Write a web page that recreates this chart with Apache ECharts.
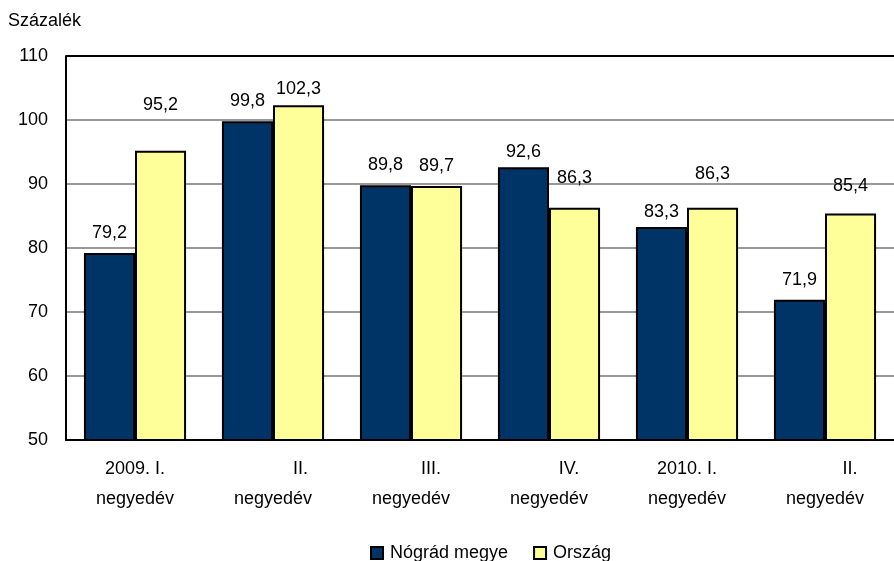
<!DOCTYPE html>
<html style="height: 100%">
<head>
  <meta charset="utf-8" />
  <title>Százalék</title>
  <script src="https://cdn.jsdelivr.net/npm/echarts@6/dist/echarts.min.js"></script>
</head>
<body style="height: 100%; margin: 0; overflow: hidden; background: #fff">
  <div id="container" style="width: 894px; height: 561px"></div>
  <script>
    // adatok
    var categories = [
      "2009. I.\nnegyedév",
      "           II.\nnegyedév",
      "        III.\nnegyedév",
      "        IV.\nnegyedév",
      "2010. I.\nnegyedév",
      "          II.\nnegyedév"
    ];
    var nograd = [79.2, 99.8, 89.8, 92.6, 83.3, 71.9];
    var orszag = [95.2, 102.3, 89.7, 86.3, 86.3, 85.4];
    var seriesNames = ["Nógrád megye", "Ország"];

    // a feliratok kézzel állított távolsága az oszlop tetejétől (px)
    var nogradLabelDist = [11, 11, 11, 6, 6, 11];
    var orszagLabelDist = [37, 7, 11, 21, 25, 18];

    var font = "Liberation Sans, Arial, sans-serif";
    var dom = document.getElementById("container");
    var myChart = echarts.init(dom, null, { renderer: "canvas" });

    let toItems = (vals, dists) => vals.map((v, i) => ({
      value: v,
      label: { distance: dists[i] }
    }));

    var label = {
      show: true,
      position: "top",
      color: "#000",
      fontSize: 18,
      fontFamily: font,
      formatter: function (p) { return p.value.toFixed(1).replace(".", ","); }
    };

    var option = {
      animation: false,
      backgroundColor: "#fff",
      textStyle: { fontFamily: font },
      graphic: [{
        type: "text", left: 8, top: 12,
        style: { text: "Százalék", fontSize: 18, fontFamily: font, fill: "#000" }
      }],
      legend: {
        left: 365, top: 539,
        icon: "rect",
        itemWidth: 12, itemHeight: 12, itemGap: 25,
        itemStyle: { borderColor: "#000", borderWidth: 2 },
        textStyle: { fontSize: 18, color: "#000", fontFamily: font, padding: [0, 0, 0, 2] },
        data: seriesNames
      },
      grid: { left: 66, top: 56, width: 840, height: 384 },
      xAxis: {
        type: "category",
        data: categories,
        axisLine: { lineStyle: { color: "#000", width: 2 } },
        axisTick: { show: false },
        axisLabel: { color: "#000", fontSize: 18, lineHeight: 30, margin: 14, fontFamily: font }
      },
      yAxis: {
        type: "value",
        min: 50, max: 110, interval: 10,
        axisLine: { show: true, lineStyle: { color: "#000", width: 2 } },
        axisTick: { show: false },
        axisLabel: { color: "#000", fontSize: 18, margin: 18, fontFamily: font },
        splitLine: {
          lineStyle: { color: ["#000", "#999", "#999", "#999", "#999", "#999", "#000"], width: 2 }
        }
      },
      series: [
        {
          name: seriesNames[0], type: "bar", data: toItems(nograd, nogradLabelDist),
          barGap: "0%", barCategoryGap: "26%",
          itemStyle: { color: "#003366", borderColor: "#000", borderWidth: 2 },
          label: label
        },
        {
          name: seriesNames[1], type: "bar", data: toItems(orszag, orszagLabelDist),
          itemStyle: { color: "#FFFF99", borderColor: "#000", borderWidth: 2 },
          label: label
        }
      ]
    };
    myChart.setOption(option);
  </script>
</body>
</html>
